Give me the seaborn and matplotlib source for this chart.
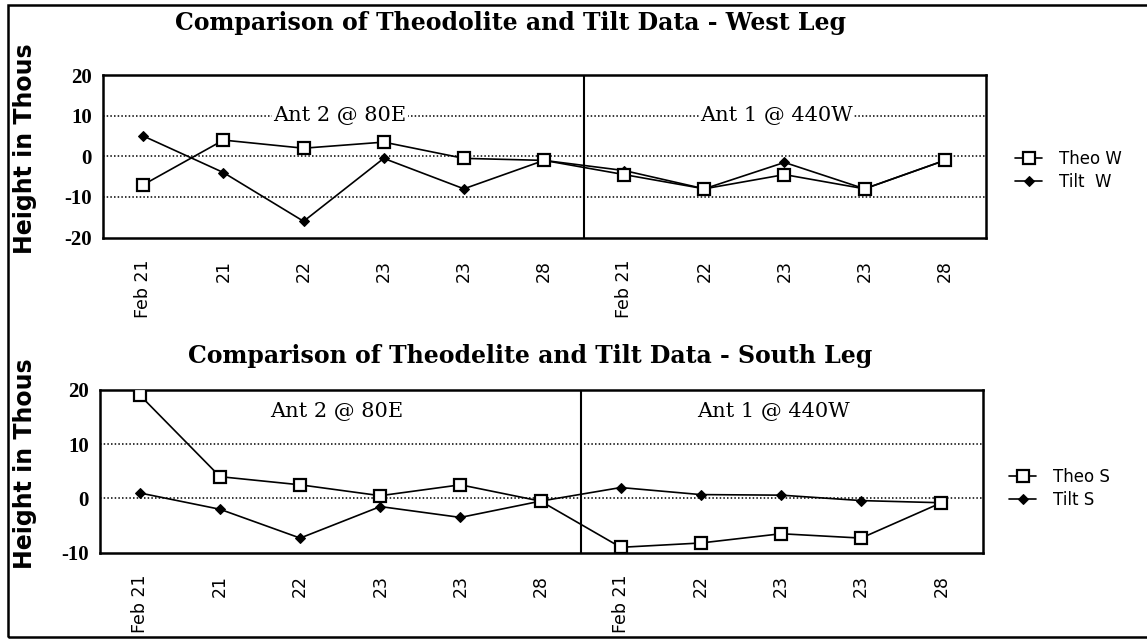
import numpy as np
import pandas as pd
import matplotlib
matplotlib.use("Agg")
import matplotlib.pyplot as plt
from matplotlib.patches import Rectangle
import seaborn as sns

# x categories (survey dates), divider between the two antenna runs
dates = ["Feb 21", "21", "22", "23", "23", "28", "Feb 21", "22", "23", "23", "28"]
divider_pos = 5.5

# west leg, height in thous
theo_w = [-7, 4, 2, 3.5, -0.5, -1, -4.5, -8, -4.5, -8, -1]
tilt_w = [5, -4, -16, -0.5, -8, -1, -3.5, -8, -1.5, -8, -1]

# south leg
theo_s = [19, 4, 2.5, 0.5, 2.5, -0.5, -9, -8.2, -6.5, -7.3, -0.8]
tilt_s = [1, -2, -7.3, -1.5, -3.5, -0.5, 2, 0.7, 0.6, -0.4, -0.8]

panels = [
    {"title": "Comparison of Theodolite and Tilt Data - West Leg",
     "theo": theo_w, "tilt": tilt_w, "names": ("Theo W", "Tilt  W"),
     "ylim": (-20, 20), "yticks": [-20, -10, 0, 10, 20], "minor": [-15, -5, 5, 15],
     "grid": [-10, 0, 10], "ant_y": 10},
    {"title": "Comparison of Theodelite and Tilt Data - South Leg",
     "theo": theo_s, "tilt": tilt_s, "names": ("Theo S", "Tilt S"),
     "ylim": (-10, 20), "yticks": [-10, 0, 10, 20], "minor": [-5, 5, 15],
     "grid": [0, 10], "ant_y": 16},
]

sns.set_style("white")
plt.rcParams["font.family"] = ["DejaVu Sans"]
plt.rcParams["text.color"] = "black"
plt.rcParams["xtick.color"] = "black"
plt.rcParams["ytick.color"] = "black"
plt.rcParams["xtick.labelcolor"] = "black"
plt.rcParams["ytick.labelcolor"] = "black"
plt.rcParams["legend.labelcolor"] = "black"

fig = plt.figure(figsize=(11.47, 6.42), dpi=100)
ax_rects = [[0.090, 0.630, 0.770, 0.253], [0.087, 0.139, 0.770, 0.254]]
title_pos = [(0.445, 0.964), (0.462, 0.445)]
legend_pos = [(0.872, 0.790), (0.867, 0.295)]
x = np.arange(len(dates))

for p, rect, tpos, lpos in zip(panels, ax_rects, title_pos, legend_pos):
    ax = fig.add_axes(rect)
    df = pd.DataFrame({"pos": x, "theo": p["theo"], "tilt": p["tilt"]})

    for g in p["grid"]:
        ax.axhline(g, color="black", lw=1.1, ls=(0, (1, 1.4)), zorder=1)
    ax.axvline(divider_pos, color="black", lw=1.5, zorder=2)

    sns.lineplot(data=df, x="pos", y="theo", ax=ax, color="black", lw=1.2,
                 marker="s", markersize=8, markerfacecolor="white",
                 markeredgecolor="black", markeredgewidth=1.6,
                 label=p["names"][0], zorder=4)
    sns.lineplot(data=df, x="pos", y="tilt", ax=ax, color="black", lw=1.2,
                 marker="D", markersize=5, markerfacecolor="black",
                 markeredgecolor="black", label=p["names"][1], zorder=3)

    ax.set_xlim(-0.46, 10.52)
    ax.set_ylim(*p["ylim"])
    ax.set_xticks(x)
    ax.set_xticklabels(dates, rotation=90, fontsize=12.5)
    ax.set_xticks(np.arange(-0.5, 10.6, 1), minor=True)
    ax.set_yticks(p["yticks"])
    ax.set_yticklabels([str(v) for v in p["yticks"]], fontsize=15,
                       fontweight="bold", family="Liberation Serif")
    ax.set_yticks(p["minor"], minor=True)
    ax.tick_params(axis="x", which="major", direction="out", length=8, width=1.5, pad=8)
    ax.tick_params(axis="x", which="minor", direction="out", length=4, width=1.2)
    ax.tick_params(axis="y", which="major", length=0, pad=8)
    ax.tick_params(axis="y", which="minor", direction="in", length=6, width=1.2)
    ax.set_xlabel("")
    ax.set_ylabel("")
    for s in ax.spines.values():
        s.set_color("black")
        s.set_linewidth(1.8)

    ant_kw = dict(ha="center", va="center", fontsize=15, family="DejaVu Serif",
                  color="black", zorder=5)
    if p["ant_y"] == 10:
        ant_kw["bbox"] = dict(facecolor="white", edgecolor="none", pad=1)
    ax.text(2.45, p["ant_y"], "Ant 2 @ 80E", **ant_kw)
    ax.text(7.9, p["ant_y"], "Ant 1 @ 440W", **ant_kw)

    fig.text(tpos[0], tpos[1], p["title"], ha="center", va="center", color="black",
             fontsize=17, fontweight="bold", family="DejaVu Serif")
    fig.text(0.022, rect[1] + rect[3] / 2 + 0.012, "Height in Thous", rotation=90,
             ha="center", va="center", fontsize=17, fontweight="bold", color="black")

    leg = ax.legend(loc="upper left", bbox_to_anchor=lpos,
                    bbox_transform=fig.transFigure, frameon=False,
                    fontsize=12, handlelength=1.6, handletextpad=1.0,
                    labelspacing=0.3)

fig.add_artist(Rectangle((0.007, 0.008), 1.1, 0.984, transform=fig.transFigure,
                         fill=False, edgecolor="black", lw=1.8))

fig.savefig("out.png", dpi=100)
